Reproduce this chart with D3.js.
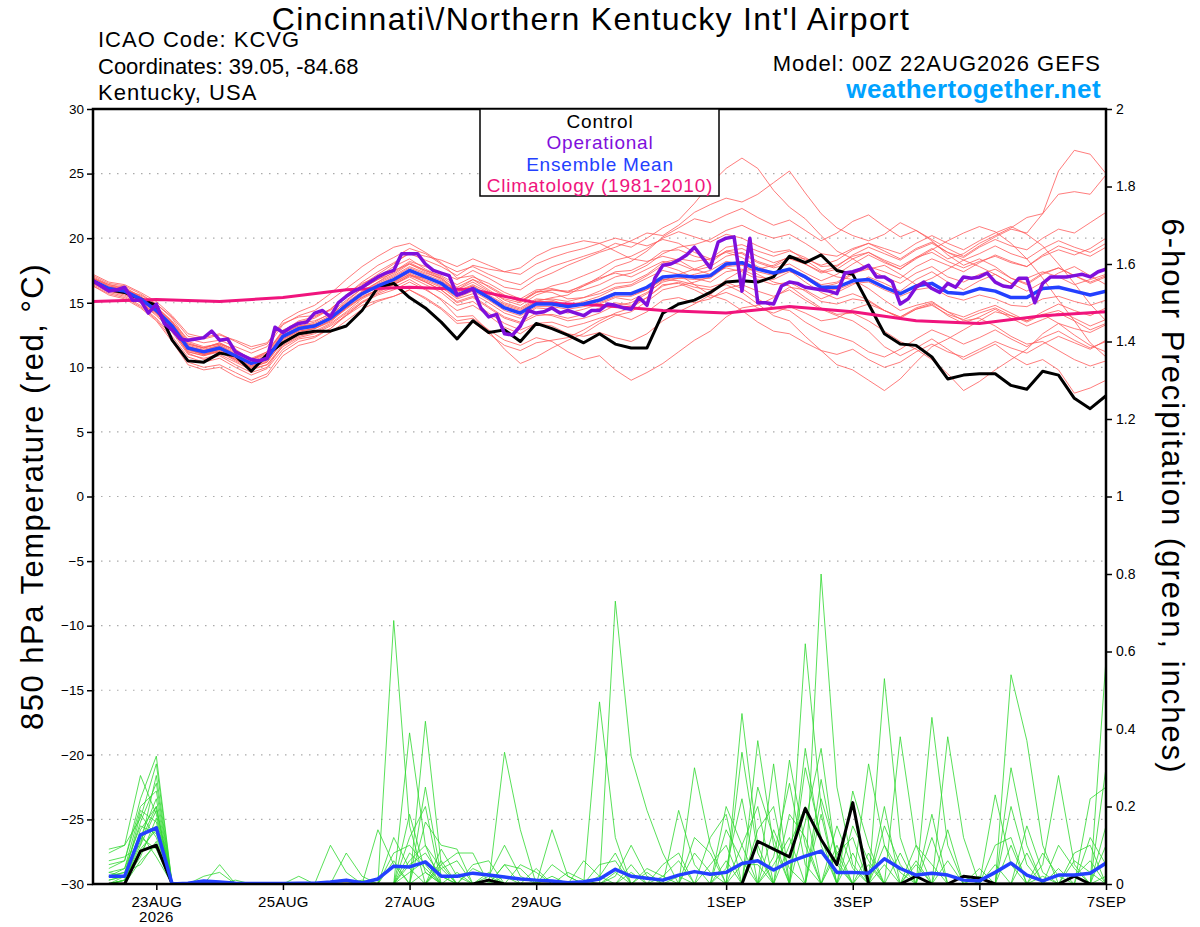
<!DOCTYPE html>
<html>
<head>
<meta charset="utf-8">
<script src="https://cdn.jsdelivr.net/npm/d3@7"></script>
<style>
  body { margin: 0; background: #fff; }
  text { font-family: "Liberation Sans", Arial, Helvetica, sans-serif; }
</style>
</head>
<body>
<svg id="chart" width="1200" height="927"></svg>
<script>
// ---- data (read off the GEFS plume, 00Z 22AUG2026 run) ----
// temperatures are 6-hourly from f000, precip 6-hourly from f006, operational 3-hourly

var tickDays = ["2026-08-23", "2026-08-25", "2026-08-27", "2026-08-29", "2026-09-01", "2026-09-03", "2026-09-05", "2026-09-07"];
var tempTicks = [-30, -25, -20, -15, -10, -5, 0, 5, 10, 15, 20, 25, 30];
var pcpTicks = [0, 0.2, 0.4, 0.6, 0.8, 1, 1.2, 1.4, 1.6, 1.8, 2];
var legendItems = ["Control", "Operational", "Ensemble Mean", "Climatology (1981-2010)"];

var tempControl = [16.7, 16.0, 15.8, 15.3, 14.8, 12.1, 10.5, 10.4, 11.1, 10.9, 9.7, 11.0, 11.9, 12.6, 12.8, 12.8,
  13.2, 14.4, 16.2, 16.5, 15.4, 14.6, 13.5, 12.2, 13.6, 12.7, 12.9, 12.0, 13.4, 13.0, 12.5, 11.9,
  12.6, 11.8, 11.5, 11.5, 14.2, 14.9, 15.2, 15.8, 16.6, 16.7, 16.6, 17.0, 18.6, 18.1, 18.7, 17.5,
  17.2, 14.9, 12.6, 11.8, 11.7, 10.8, 9.1, 9.4, 9.5, 9.5, 8.6, 8.3, 9.7, 9.4, 7.6, 6.8, 7.8];

var tempMean = [16.7, 16.1, 15.9, 15.3, 14.4, 13.2, 11.5, 11.2, 11.5, 10.9, 10.3, 10.7, 12.4, 13.0, 13.2, 13.8,
  14.8, 15.7, 16.3, 16.8, 17.5, 17.0, 16.5, 15.6, 16.1, 15.4, 14.6, 14.2, 14.9, 14.9, 14.7, 14.9,
  15.2, 15.7, 15.7, 16.2, 17.0, 17.1, 17.0, 17.1, 18.0, 18.1, 17.6, 17.3, 17.6, 17.0, 16.2, 16.2,
  16.7, 16.8, 16.2, 15.7, 16.3, 16.5, 15.8, 15.7, 16.1, 15.9, 15.4, 15.4, 16.1, 16.2, 15.9, 15.6, 15.9];

// operational GFS, every 3 hours
var tempOper = [16.7, 16.3, 15.9, 16.0, 16.2, 15.2, 15.2, 14.2, 14.9, 13.4, 12.9, 12.2, 12.1, 12.2, 12.3, 12.8,
  12.1, 12.2, 11.2, 10.9, 10.6, 10.5, 10.7, 13.1, 12.7, 13.1, 13.4, 13.5, 14.2, 14.4, 13.9, 15.0,
  15.5, 15.9, 16.2, 16.6, 17.0, 17.3, 17.5, 18.8, 18.8, 18.8, 18.0, 17.5, 17.3, 17.1, 15.6, 15.8,
  16.1, 14.6, 13.9, 14.1, 12.6, 12.5, 13.2, 14.4, 14.2, 14.3, 14.6, 14.2, 14.4, 14.2, 14.0, 14.4,
  14.4, 14.9, 14.8, 14.6, 14.5, 15.4, 14.8, 16.9, 17.9, 18.0, 18.3, 18.7, 19.3, 18.5, 17.7, 19.7,
  20.0, 20.1, 15.9, 20.0, 15.0, 15.0, 14.9, 16.3, 16.6, 16.5, 16.2, 16.1, 16.0, 15.9, 15.7, 17.3,
  17.4, 17.6, 17.9, 17.0, 17.0, 16.6, 14.9, 15.3, 16.2, 16.6, 16.1, 15.8, 16.5, 16.2, 17.0, 16.9,
  17.0, 17.3, 16.6, 16.3, 16.2, 16.9, 16.9, 15.0, 16.5, 17.0, 17.0, 17.0, 17.1, 17.2, 17.0, 17.4, 17.6];

// 1981-2010 climatology, once a day at 00Z
var tempClim = [15.1, 15.25, 15.1, 15.4, 16.0, 16.2, 16.0, 15.0, 14.8, 14.4, 14.2, 14.7, 14.3, 13.6, 13.4, 14.0, 14.3];

var tempMembers = [
  [16.9, 16.3, 16.0, 15.6, 14.9, 13.8, 12.0, 11.6, 11.8, 11.4, 10.6, 11.2, 12.8, 13.6, 13.9, 14.5, 15.6, 16.5, 17.0, 17.8, 18.4, 17.6, 17.0, 16.2, 16.8, 16.0, 15.2, 14.8, 15.6, 16.0, 15.8, 16.4, 16.9, 17.3, 17.0, 17.6, 18.2, 18.0, 17.5, 17.8, 18.6, 18.9, 18.2, 17.8, 18.4, 18.0, 17.3, 17.6, 18.4, 18.9, 18.2, 17.6, 18.5, 19.2, 18.4, 18.8, 19.6, 20.2, 20.8, 21.6, 21.9, 25.2, 26.8, 26.5, 25.0],
  [17.0, 16.4, 16.2, 15.5, 14.6, 13.5, 12.2, 11.9, 12.1, 11.6, 11.1, 11.6, 13.3, 14.0, 14.4, 15.2, 16.1, 17.0, 17.9, 18.5, 19.2, 18.8, 18.0, 17.4, 17.8, 17.2, 16.7, 16.4, 17.2, 17.8, 18.2, 18.6, 19.0, 19.6, 19.3, 20.0, 20.8, 21.4, 22.7, 24.2, 25.4, 26.2, 25.4, 23.7, 22.4, 21.5, 20.2, 19.0, 18.4, 17.6, 17.9, 17.2, 16.4, 16.9, 17.6, 18.3, 17.8, 17.2, 16.5, 16.9, 17.4, 17.0, 16.4, 16.8, 17.2],
  [16.5, 16.0, 15.7, 15.0, 14.0, 12.8, 11.2, 10.9, 11.3, 10.6, 10.0, 10.4, 12.0, 12.7, 13.0, 13.5, 14.6, 15.8, 16.6, 17.4, 18.2, 17.8, 17.3, 16.8, 17.5, 16.9, 16.2, 16.0, 16.8, 17.3, 17.9, 18.4, 18.9, 19.3, 19.8, 20.4, 20.2, 21.0, 22.0, 22.6, 23.1, 22.8, 23.4, 24.3, 25.2, 23.5, 21.9, 20.8, 20.2, 19.8, 20.3, 21.2, 20.6, 19.9, 19.2, 18.6, 19.4, 20.1, 20.7, 20.4, 21.9, 23.4, 23.6, 23.4, 24.9],
  [16.4, 15.8, 15.5, 14.8, 13.8, 12.4, 10.8, 10.4, 10.7, 10.0, 9.4, 9.9, 11.4, 12.2, 12.4, 13.0, 14.0, 15.0, 15.6, 16.0, 16.6, 16.0, 15.3, 14.4, 14.8, 14.0, 13.1, 12.6, 13.4, 13.5, 13.1, 13.4, 13.8, 14.1, 13.7, 14.3, 15.2, 15.4, 15.0, 15.3, 16.1, 16.4, 15.9, 15.5, 16.0, 15.2, 14.5, 14.0, 13.6, 12.8, 11.6, 10.9, 11.5, 12.2, 11.4, 10.6, 11.2, 11.8, 10.9, 10.2, 10.6, 9.8, 8.0, 8.4, 9.0],
  [16.6, 16.0, 15.8, 15.1, 14.3, 13.0, 11.4, 11.0, 11.2, 10.5, 9.9, 10.2, 11.6, 12.3, 12.6, 13.2, 14.0, 14.8, 15.2, 15.5, 16.0, 15.4, 14.6, 13.6, 13.8, 12.9, 12.1, 11.7, 12.3, 12.0, 11.2, 10.6, 10.9, 9.8, 9.0, 9.6, 10.3, 11.2, 12.1, 12.8, 13.9, 14.6, 14.8, 15.4, 16.2, 16.0, 15.3, 15.8, 16.4, 17.0, 16.5, 15.9, 16.8, 17.4, 16.6, 16.0, 16.7, 17.2, 16.5, 15.9, 16.6, 17.3, 17.8, 17.1, 16.4],
  [16.8, 16.2, 16.0, 15.2, 14.2, 12.9, 11.1, 10.6, 10.9, 10.2, 9.6, 10.0, 11.7, 12.4, 12.7, 13.3, 14.2, 15.1, 15.7, 16.2, 16.8, 16.1, 15.2, 13.9, 14.0, 12.8, 11.4, 10.3, 10.8, 11.5, 12.1, 12.6, 13.4, 14.0, 14.3, 15.1, 16.0, 16.3, 16.6, 17.0, 17.8, 18.2, 17.6, 17.2, 17.5, 16.6, 15.8, 15.3, 15.7, 15.2, 14.4, 13.8, 14.5, 14.9, 14.0, 13.4, 13.9, 14.5, 13.8, 13.2, 13.7, 14.2, 13.6, 12.9, 13.4],
  [16.9, 16.3, 16.1, 15.4, 14.7, 13.6, 11.9, 11.5, 11.9, 11.3, 10.7, 11.2, 12.9, 13.4, 13.6, 14.1, 15.0, 15.9, 16.6, 17.2, 18.0, 17.5, 17.1, 16.4, 17.0, 16.5, 15.8, 15.3, 16.0, 16.1, 15.8, 16.0, 16.4, 17.0, 17.3, 17.9, 18.8, 19.3, 19.5, 19.9, 20.6, 21.0, 20.4, 20.0, 20.3, 19.6, 18.8, 18.6, 19.2, 19.6, 19.0, 18.4, 19.2, 19.7, 18.9, 18.3, 18.8, 19.4, 18.8, 18.4, 19.2, 19.8, 19.3, 18.9, 19.6],
  [16.6, 16.0, 15.9, 15.3, 14.5, 13.3, 11.6, 11.3, 11.7, 11.1, 10.5, 10.9, 12.6, 13.2, 13.3, 13.9, 14.9, 15.8, 16.5, 17.1, 17.8, 17.3, 16.9, 16.0, 16.6, 15.9, 15.0, 14.6, 15.3, 15.2, 14.8, 15.0, 15.3, 15.8, 15.6, 16.0, 16.8, 16.7, 16.4, 16.2, 16.6, 16.1, 15.3, 14.6, 14.4, 13.5, 12.8, 12.4, 12.0, 11.2, 10.8, 11.4, 12.2, 12.9, 12.4, 11.8, 12.3, 12.9, 12.2, 11.6, 12.3, 12.8, 12.1, 11.5, 12.0],
  [16.7, 16.2, 16.0, 15.4, 14.5, 13.4, 11.7, 11.4, 11.7, 11.0, 10.4, 10.8, 12.5, 13.1, 13.4, 14.0, 15.1, 16.1, 16.8, 17.5, 18.0, 17.4, 16.8, 15.9, 16.4, 15.8, 15.3, 15.0, 15.8, 16.3, 16.6, 17.1, 17.6, 18.3, 18.6, 19.2, 20.0, 20.5, 20.1, 19.7, 20.3, 20.0, 19.4, 18.9, 19.1, 18.3, 17.5, 17.0, 16.8, 16.1, 15.2, 14.4, 14.8, 15.1, 14.3, 13.6, 13.8, 13.2, 12.4, 11.8, 12.0, 11.3, 10.6, 10.1, 10.5],
  [16.5, 15.9, 15.6, 15.0, 14.1, 12.7, 11.0, 10.7, 11.0, 10.4, 9.8, 10.2, 11.8, 12.5, 12.8, 13.4, 14.3, 15.3, 15.9, 16.4, 17.1, 16.6, 16.0, 15.0, 15.4, 14.6, 13.8, 13.4, 14.0, 14.1, 13.8, 14.1, 14.6, 15.0, 14.8, 15.4, 16.3, 16.6, 16.2, 16.0, 16.4, 15.8, 14.9, 14.0, 13.6, 12.4, 11.3, 10.2, 9.8, 9.0, 8.2, 9.1, 10.4, 11.6, 12.2, 12.9, 13.6, 14.3, 14.0, 13.6, 14.3, 14.9, 14.4, 14.0, 14.6],
  [16.8, 16.1, 15.8, 15.2, 14.4, 13.1, 11.4, 11.0, 11.4, 10.7, 10.1, 10.5, 12.2, 12.8, 13.0, 13.6, 14.6, 15.5, 16.0, 16.5, 17.2, 16.7, 16.2, 15.3, 15.7, 15.0, 14.2, 13.8, 14.6, 14.5, 14.2, 14.5, 14.9, 15.4, 15.2, 15.8, 16.6, 16.9, 17.2, 17.5, 18.2, 18.0, 17.2, 16.6, 16.3, 15.4, 14.6, 14.1, 14.2, 13.6, 12.8, 12.0, 11.4, 10.6, 9.5, 8.2, 8.9, 9.8, 10.6, 11.4, 12.6, 13.4, 13.0, 12.7, 13.3],
  [16.6, 16.1, 15.9, 15.3, 14.4, 13.3, 11.6, 11.3, 11.6, 11.0, 10.4, 10.8, 12.4, 13.0, 13.2, 13.9, 14.9, 15.8, 16.4, 17.0, 17.7, 17.2, 16.7, 15.8, 16.3, 15.6, 14.9, 14.5, 15.2, 15.3, 15.1, 15.4, 15.9, 16.5, 16.6, 17.2, 18.1, 18.4, 18.2, 18.4, 19.3, 19.5, 19.0, 18.6, 19.0, 18.5, 17.8, 17.9, 18.6, 18.9, 18.3, 17.8, 18.5, 18.9, 18.2, 17.7, 18.2, 18.6, 18.1, 17.8, 18.6, 19.1, 18.7, 19.2, 20.0],
  [16.3, 15.7, 15.4, 14.7, 13.7, 12.2, 10.4, 10.0, 10.2, 9.6, 9.0, 9.5, 11.2, 12.0, 12.3, 13.0, 14.1, 15.0, 15.8, 16.4, 17.1, 16.9, 16.6, 16.0, 16.8, 16.3, 15.6, 15.1, 15.9, 15.8, 15.3, 15.4, 15.7, 16.2, 16.4, 17.1, 17.9, 17.5, 16.9, 16.6, 17.4, 17.6, 17.0, 16.8, 17.4, 17.1, 16.4, 16.6, 17.3, 17.6, 17.0, 16.5, 17.3, 17.8, 17.0, 16.6, 17.2, 17.6, 16.9, 16.5, 17.3, 17.7, 17.1, 16.6, 17.1],
  [17.1, 16.5, 16.3, 15.7, 14.9, 13.9, 12.4, 12.2, 12.5, 12.1, 11.6, 11.9, 13.4, 13.9, 14.0, 14.4, 15.4, 16.4, 17.2, 18.0, 18.9, 18.6, 18.3, 17.8, 18.4, 17.9, 17.4, 17.2, 18.0, 18.5, 18.9, 19.2, 19.6, 20.0, 19.7, 19.4, 19.9, 19.6, 18.9, 18.4, 18.9, 18.5, 17.8, 17.3, 17.6, 16.9, 16.2, 16.5, 17.2, 17.8, 17.4, 16.9, 17.8, 18.4, 17.9, 17.4, 18.1, 18.7, 18.2, 17.8, 18.7, 19.4, 19.0, 18.6, 19.3],
  [16.7, 16.1, 15.9, 15.2, 14.3, 13.0, 11.3, 11.0, 11.3, 10.7, 10.1, 10.6, 12.2, 12.9, 13.1, 13.7, 14.6, 15.4, 16.0, 16.4, 17.0, 16.4, 15.8, 14.8, 15.1, 14.2, 13.4, 12.9, 13.4, 13.2, 12.6, 12.4, 12.7, 12.3, 12.0, 12.6, 13.6, 14.3, 14.9, 15.6, 16.8, 17.5, 17.6, 17.9, 18.6, 18.4, 17.9, 18.3, 19.1, 19.6, 19.2, 18.8, 19.6, 20.2, 19.6, 19.1, 19.8, 20.4, 20.9, 20.3, 19.4, 18.0, 16.5, 14.9, 13.6],
  [16.6, 16.0, 15.8, 15.2, 14.4, 13.1, 11.5, 11.1, 11.4, 10.8, 10.2, 10.6, 12.3, 12.9, 13.2, 13.7, 14.7, 15.6, 16.2, 16.7, 17.3, 16.8, 16.3, 15.4, 15.9, 15.2, 14.4, 14.0, 14.7, 14.7, 14.5, 14.7, 15.0, 15.5, 15.5, 16.0, 16.8, 16.9, 16.8, 16.9, 17.8, 17.9, 17.4, 17.1, 17.5, 16.9, 16.1, 16.0, 16.5, 16.6, 16.0, 15.5, 16.0, 16.2, 15.5, 15.2, 15.6, 15.3, 14.8, 14.7, 15.3, 15.5, 15.1, 14.8, 15.2],
  [16.9, 16.4, 16.1, 15.5, 14.7, 13.5, 11.8, 11.5, 11.9, 11.3, 10.6, 11.1, 12.8, 13.5, 13.8, 14.5, 15.6, 16.6, 17.4, 18.1, 18.8, 18.3, 17.8, 17.1, 17.9, 17.6, 17.4, 17.7, 18.6, 19.2, 19.5, 19.8, 19.6, 19.0, 18.4, 18.2, 18.6, 18.3, 17.6, 17.2, 17.7, 17.4, 16.8, 16.4, 16.6, 15.9, 15.1, 14.9, 15.3, 15.1, 14.4, 13.9, 14.5, 14.8, 14.1, 13.7, 14.2, 14.6, 14.0, 13.5, 14.1, 14.4, 13.8, 13.2, 13.7],
  [16.5, 15.9, 15.7, 15.0, 14.2, 12.9, 11.2, 10.9, 11.2, 10.6, 10.0, 10.4, 12.1, 12.8, 13.0, 13.6, 14.5, 15.4, 16.0, 16.6, 17.4, 17.0, 16.5, 15.6, 16.1, 15.5, 14.8, 14.4, 15.1, 15.1, 14.8, 15.1, 15.5, 16.1, 16.3, 16.9, 17.5, 17.2, 16.4, 15.6, 15.2, 14.4, 13.5, 12.8, 12.6, 11.9, 11.3, 11.0, 11.4, 10.6, 10.0, 10.4, 11.2, 11.8, 11.2, 10.8, 11.4, 12.0, 11.5, 11.1, 11.8, 12.4, 11.9, 11.4, 12.1],
  [16.8, 16.2, 16.0, 15.4, 14.6, 13.4, 11.8, 11.5, 11.8, 11.2, 10.6, 11.0, 12.7, 13.2, 13.5, 14.2, 15.2, 16.1, 16.8, 17.3, 18.1, 17.5, 16.9, 15.9, 16.3, 15.5, 14.7, 14.3, 15.1, 15.4, 15.6, 16.3, 17.0, 17.8, 18.2, 19.0, 20.1, 20.8, 21.5, 21.2, 21.8, 22.3, 21.6, 21.0, 21.4, 20.6, 19.8, 20.4, 21.3, 21.8, 20.9, 20.1, 20.6, 19.8, 18.7, 17.9, 18.4, 17.8, 16.9, 16.4, 17.2, 17.7, 17.1, 16.5, 17.0],
  [16.7, 16.1, 15.8, 15.2, 14.4, 13.1, 11.4, 11.0, 11.4, 10.9, 10.3, 10.6, 12.3, 13.0, 13.3, 13.8, 14.8, 15.7, 16.2, 16.6, 17.2, 16.6, 16.0, 15.1, 15.5, 14.7, 13.9, 13.5, 14.2, 14.0, 13.6, 13.8, 14.2, 14.8, 15.0, 15.7, 16.7, 17.2, 17.6, 18.1, 19.0, 18.8, 18.1, 17.7, 18.0, 17.3, 16.7, 17.2, 18.0, 18.7, 18.1, 17.6, 18.4, 19.1, 19.8, 20.4, 20.9, 20.5, 19.6, 18.4, 16.9, 15.2, 13.6, 11.9, 10.8],
  [17.2, 16.6, 16.4, 15.8, 15.1, 14.0, 12.6, 12.3, 12.6, 12.0, 11.4, 11.8, 13.6, 14.3, 14.8, 15.7, 16.8, 17.8, 18.6, 19.3, 19.6, 18.9, 18.1, 16.9, 17.1, 16.2, 15.5, 15.1, 15.8, 16.0, 15.9, 16.3, 16.8, 17.4, 17.5, 18.1, 19.0, 19.1, 18.6, 18.3, 19.0, 19.2, 18.6, 18.1, 18.5, 18.0, 17.4, 17.8, 18.7, 19.3, 18.8, 18.3, 19.1, 19.6, 18.9, 18.5, 19.3, 19.9, 19.4, 19.1, 20.0, 20.7, 20.4, 21.2, 22.0],
  [16.3, 15.6, 15.3, 14.6, 13.6, 12.0, 10.2, 9.8, 10.0, 9.3, 8.8, 9.3, 10.9, 11.7, 12.0, 12.7, 13.6, 14.5, 15.1, 15.5, 16.0, 15.3, 14.5, 13.4, 13.5, 12.6, 11.7, 11.3, 11.9, 12.1, 12.3, 12.9, 13.6, 14.2, 14.6, 15.4, 16.4, 16.5, 16.0, 15.4, 15.8, 15.3, 14.6, 14.2, 14.7, 14.2, 13.6, 13.8, 14.5, 14.9, 14.4, 13.9, 14.6, 15.0, 14.3, 13.9, 14.4, 14.8, 14.2, 13.6, 14.1, 13.4, 12.5, 11.7, 11.2]
];

// 6-hour precipitation (inches), f006..f384
var pcpControl = [0, 0, .085, .1, 0, 0, 0, 0, 0, 0, 0, 0, 0, 0, 0, 0,
  0, 0, 0, 0, 0, 0, 0, 0, .01, 0, 0, 0, 0, 0, 0, 0,
  0, 0, 0, 0, 0, 0, 0, 0, 0, .11, .09, .07, .195, .115, .05, .21,
  0, 0, 0, .02, 0, 0, .02, .015, 0, 0, 0, 0, 0, .02, 0, 0];

var pcpMean = [.02, .02, .127, .145, 0, .002, .008, .005, .002, .001, .001, .001, .002, .002, .005, .01,
  .003, .013, .046, .044, .057, .02, .02, .028, .023, .018, .013, .01, .008, .003, .006, .013,
  .038, .02, .015, .01, .023, .032, .025, .03, .053, .06, .036, .057, .072, .085, .03, .03,
  .028, .065, .04, .023, .028, .023, .01, .008, .03, .054, .023, .008, .023, .023, .028, .054];

var pcpMembers = [
  [.04, .06, .22, .33, 0, 0, 0, 0, 0, 0, 0, 0, 0, 0, 0, 0, 0, 0, .68, .15, 0, 0, 0, 0, 0, .05, 0, 0, 0, 0, 0, 0, .03, 0, 0, 0, 0, 0, 0, .06, 0, 0, 0, 0, .62, .2, 0, 0, 0, .05, 0, 0, 0, 0, 0, 0, 0, .1, 0, 0, 0, 0, 0, .02],
  [.09, .1, .28, .18, 0, 0, 0, 0, 0, 0, 0, 0, 0, 0, 0, 0, 0, 0, 0, 0, .42, .05, 0, 0, 0, 0, 0, 0, 0, 0, 0, 0, .73, .33, .19, .08, 0, 0, 0, 0, 0, 0, 0, 0, 0, 0, .1, 0, 0, 0, 0, 0, .43, .1, 0, 0, 0, 0, 0, 0, 0, 0, 0, 0],
  [.02, .03, .16, .26, 0, 0, 0, 0, 0, 0, 0, 0, 0, 0, 0, 0, 0, 0, 0, .39, .1, 0, 0, 0, 0, .34, .14, 0, 0, 0, 0, 0, 0, 0, 0, 0, 0, 0, 0, 0, .44, .1, 0, 0, 0, .8, .25, .05, 0, 0, 0, 0, 0, 0, 0, 0, 0, 0, 0, .05, .28, .05, 0, 0],
  [0, .02, .12, .22, 0, 0, 0, .05, 0, 0, 0, 0, 0, 0, .1, .03, 0, 0, 0, .12, .2, 0, 0, 0, 0, 0, 0, 0, .14, .02, 0, 0, 0, 0, 0, 0, 0, .3, .1, 0, 0, 0, .31, 0, 0, 0, 0, 0, 0, .53, .12, 0, 0, 0, 0, 0, 0, .54, .37, .1, 0, 0, 0, 0],
  [.01, .02, .18, .12, 0, 0, 0, 0, 0, 0, 0, 0, 0, 0, 0, .08, .02, 0, 0, 0, 0, .05, .08, .08, 0, 0, 0, 0, 0, 0, 0, .47, .12, 0, 0, 0, 0, 0, 0, 0, 0, .37, .1, 0, 0, 0, 0, 0, .31, .1, 0, 0, 0, 0, 0, 0, 0, 0, 0, 0, 0, 0, 0, .58],
  [0, .01, .1, .19, 0, 0, .02, .03, 0, 0, 0, 0, 0, 0, 0, 0, 0, .14, .05, 0, 0, 0, 0, 0, .03, 0, 0, 0, 0, 0, 0, 0, 0, 0, 0, 0, .19, .05, 0, 0, .34, .08, 0, 0, 0, 0, 0, 0, 0, 0, .38, .1, 0, 0, 0, 0, .23, .05, 0, 0, 0, 0, 0, 0],
  [.03, .02, .08, .15, 0, 0, 0, 0, 0, 0, 0, 0, .02, 0, 0, 0, 0, 0, 0, .05, .08, .02, 0, 0, 0, 0, .05, .03, 0, 0, 0, 0, 0, 0, 0, 0, 0, 0, 0, .2, .1, 0, 0, .18, .12, 0, 0, .24, .1, 0, 0, 0, 0, .38, .12, 0, 0, 0, 0, 0, 0, 0, .22, .25],
  [0, .01, .14, .2, 0, 0, 0, 0, 0, 0, 0, 0, 0, 0, 0, 0, 0, 0, .08, .1, .05, 0, 0, .05, .06, 0, 0, 0, 0, 0, .06, .02, 0, 0, 0, .05, .08, 0, 0, 0, 0, 0, 0, 0, 0, .27, .06, 0, 0, 0, 0, 0, .12, 0, 0, 0, 0, 0, .15, .03, 0, 0, 0, 0],
  [.05, .06, .2, .24, 0, 0, 0, 0, 0, 0, 0, 0, 0, 0, 0, 0, 0, 0, .06, 0, 0, .09, .02, 0, 0, 0, 0, 0, .05, .02, 0, 0, 0, .05, 0, 0, 0, 0, .12, .18, 0, 0, 0, .1, .2, 0, 0, 0, 0, 0, 0, .06, 0, 0, 0, .04, 0, 0, 0, 0, 0, .08, .1, 0],
  [0, 0, .06, .1, 0, 0, 0, 0, .01, 0, 0, 0, 0, 0, 0, 0, 0, 0, 0, .18, .03, 0, 0, 0, 0, .05, .04, 0, 0, 0, 0, 0, 0, 0, .03, 0, 0, 0, 0, 0, 0, .14, .2, 0, 0, 0, .08, .12, 0, 0, 0, 0, 0, 0, .02, 0, .1, .12, 0, 0, .04, 0, 0, 0],
  [.02, .04, .15, .13, 0, 0, 0, 0, 0, 0, 0, 0, 0, 0, 0, 0, 0, 0, 0, 0, .16, .1, .09, 0, 0, 0, 0, .04, 0, 0, 0, .05, .06, 0, 0, 0, 0, 0, 0, .04, .22, 0, 0, 0, .3, .12, 0, 0, 0, .15, .05, 0, 0, 0, 0, 0, 0, 0, 0, 0, 0, 0, 0, .15],
  [0, .01, .07, .17, 0, 0, 0, 0, 0, 0, 0, 0, 0, 0, 0, 0, 0, 0, 0, 0, .25, .02, 0, 0, .02, .1, .02, 0, 0, 0, 0, 0, 0, 0, 0, 0, 0, .12, .08, 0, 0, 0, .07, .26, .05, 0, 0, 0, .05, 0, 0, 0, 0, .06, 0, 0, 0, 0, 0, 0, 0, .02, .06, 0],
  [.01, .02, .12, .09, 0, 0, 0, 0, 0, 0, 0, 0, 0, 0, 0, 0, 0, 0, 0, .03, .06, 0, 0, .04, .02, 0, 0, 0, 0, 0, 0, 0, .02, .1, .02, 0, 0, 0, 0, 0, 0, 0, 0, 0, .16, .35, .05, 0, 0, 0, 0, .1, .05, 0, 0, 0, 0, 0, .08, 0, 0, 0, 0, .1],
  [.06, .07, .1, .28, 0, 0, 0, 0, 0, 0, 0, 0, 0, 0, 0, 0, 0, 0, 0, 0, 0, .04, .06, 0, 0, 0, 0, 0, 0, 0, 0, 0, 0, 0, 0, .02, .06, 0, 0, 0, .1, .2, 0, 0, 0, 0, 0, .15, .06, 0, 0, 0, 0, 0, 0, .02, 0, .3, .1, 0, 0, 0, 0, 0],
  [0, .01, .09, .14, 0, 0, 0, 0, 0, 0, 0, 0, 0, 0, 0, 0, .01, 0, .12, .04, 0, 0, 0, 0, 0, 0, 0, 0, 0, .03, .01, 0, 0, 0, 0, 0, 0, 0, .05, .1, 0, 0, .05, .12, 0, .18, 0, 0, 0, 0, .08, 0, 0, 0, 0, 0, 0, 0, 0, 0, .1, .04, 0, 0],
  [.02, .03, .05, .11, 0, 0, 0, 0, 0, 0, 0, 0, 0, 0, 0, 0, 0, 0, 0, 0, .03, 0, 0, 0, 0, .02, 0, 0, 0, 0, 0, 0, 0, 0, 0, 0, 0, 0, 0, .14, .06, 0, 0, 0, .35, .1, 0, 0, 0, .2, 0, 0, 0, 0, .02, 0, 0, 0, 0, .02, 0, 0, .12, .05],
  [0, 0, .13, .07, 0, 0, 0, 0, 0, 0, 0, 0, 0, 0, 0, 0, 0, 0, 0, 0, 0, 0, .03, 0, 0, 0, 0, 0, .02, 0, 0, 0, 0, 0, 0, 0, .02, 0, 0, 0, 0, .25, .12, 0, 0, 0, .15, .04, 0, 0, 0, 0, .18, 0, 0, 0, .05, 0, 0, 0, 0, 0, 0, .3],
  [.08, .1, .17, .31, 0, 0, 0, 0, 0, 0, 0, 0, 0, 0, 0, 0, 0, 0, 0, .08, .04, 0, 0, 0, 0, 0, 0, 0, 0, 0, 0, 0, 0, .03, 0, 0, 0, .08, .03, 0, 0, 0, 0, .32, .1, 0, 0, 0, .08, 0, 0, 0, 0, 0, 0, 0, 0, .2, .05, 0, 0, 0, 0, 0],
  [0, .01, .11, .2, 0, 0, 0, 0, 0, 0, 0, 0, 0, 0, 0, 0, 0, 0, 0, 0, 0, .06, 0, 0, 0, 0, 0, 0, 0, 0, 0, .02, .08, 0, 0, 0, 0, 0, 0, 0, .05, .05, 0, 0, 0, .22, .08, 0, 0, 0, 0, .05, 0, .14, 0, 0, 0, 0, 0, .08, .02, 0, 0, 0],
  [.03, .04, .19, .16, 0, 0, 0, 0, 0, 0, 0, 0, 0, 0, 0, 0, 0, 0, 0, .06, .1, .04, 0, 0, 0, 0, 0, 0, 0, 0, 0, 0, 0, 0, .04, .02, 0, 0, 0, 0, 0, 0, .14, .04, 0, 0, 0, .08, 0, .1, .03, 0, 0, 0, 0, 0, 0, 0, 0, 0, 0, .06, .03, 0]
];

// ---- layout ----
var margin = { top: 109, right: 94, bottom: 43, left: 93 },
    width = 1200 - margin.left - margin.right,
    height = 927 - margin.top - margin.bottom;

var runStart = new Date(Date.UTC(2026, 7, 22, 0));
var hoursToDate = function (h) { return new Date(runStart.getTime() + h * 3600 * 1000); };

var x = d3.scaleUtc().domain([runStart, hoursToDate(384)]).range([0, width]);
var yT = d3.scaleLinear().domain([-30, 30]).range([height, 0]);
var yP = d3.scaleLinear().domain([0, 2]).range([height, 0]);

var svg = d3.select("#chart");
var g = svg.append("g").attr("transform", "translate(" + margin.left + "," + margin.top + ")");

// dotted temperature grid
g.selectAll(".grid").data(tempTicks.filter(function (t) { return t > -30 && t < 30; }))
  .enter().append("line")
  .attr("x1", 0).attr("x2", width)
  .attr("y1", function (d) { return yT(d); }).attr("y2", function (d) { return yT(d); })
  .attr("stroke", "#aaa").attr("stroke-width", 1.2).attr("stroke-dasharray", "1.5,6.5");

g.append("clipPath").attr("id", "plotclip").append("rect")
  .attr("width", width).attr("height", height);
var plot = g.append("g").attr("clip-path", "url(#plotclip)");

// lines by step size
function lineFor(step, startHour, yScale) {
  return d3.line()
    .x(function (d, i) { return x(hoursToDate(startHour + i * step)); })
    .y(function (d) { return yScale(d); });
}
var tLine = lineFor(6, 0, yT);
var pLine = lineFor(6, 6, yP);

// ensemble members
plot.selectAll(".tmem").data(tempMembers).enter().append("path")
  .attr("d", tLine).attr("fill", "none")
  .attr("stroke", "#ff5a5a").attr("stroke-width", 0.8);

plot.selectAll(".pmem").data(pcpMembers).enter().append("path")
  .attr("d", pLine).attr("fill", "none")
  .attr("stroke", "#2fd82f").attr("stroke-width", 0.8);

// control, climatology, mean, operational
plot.append("path").datum(tempControl).attr("d", tLine)
  .attr("fill", "none").attr("stroke", "#000").attr("stroke-width", 3).attr("stroke-linejoin", "round");
plot.append("path").datum(pcpControl).attr("d", pLine)
  .attr("fill", "none").attr("stroke", "#000").attr("stroke-width", 3).attr("stroke-linejoin", "round");

plot.append("path").datum(tempClim).attr("d", lineFor(24, 0, yT))
  .attr("fill", "none").attr("stroke", "#f0147d").attr("stroke-width", 3);

plot.append("path").datum(tempMean).attr("d", tLine)
  .attr("fill", "none").attr("stroke", "#2340ff").attr("stroke-width", 3.5).attr("stroke-linejoin", "round");
plot.append("path").datum(pcpMean).attr("d", pLine)
  .attr("fill", "none").attr("stroke", "#2340ff").attr("stroke-width", 3.5).attr("stroke-linejoin", "round");

plot.append("path").datum(tempOper).attr("d", lineFor(3, 0, yT))
  .attr("fill", "none").attr("stroke", "#7f0fdc").attr("stroke-width", 3.5).attr("stroke-linejoin", "round");

// frame
g.append("rect").attr("width", width).attr("height", height)
  .attr("fill", "none").attr("stroke", "#000").attr("stroke-width", 2.5);

// axes
var leftAxis = g.append("g")
  .call(d3.axisLeft(yT).tickValues(tempTicks).tickSize(6).tickPadding(3));
var rightAxis = g.append("g").attr("transform", "translate(" + width + ",0)")
  .call(d3.axisRight(yP).tickValues(pcpTicks).tickSize(6).tickPadding(4).tickFormat(d3.format("~g")));

var fmtDay = d3.utcFormat("%-d%b");
var bottomAxis = g.append("g").attr("transform", "translate(0," + height + ")")
  .call(d3.axisBottom(x).tickValues(tickDays.map(function (d) { return new Date(d + "T00:00:00Z"); }))
    .tickSize(6).tickPadding(6).tickFormat(function (d) { return fmtDay(d).toUpperCase(); }));

[leftAxis, rightAxis, bottomAxis].forEach(function (a) {
  a.select(".domain").remove();
  a.selectAll(".tick line").attr("stroke", "#000").attr("stroke-width", 1.5);
  a.selectAll("text").attr("fill", "#000").style("font-family", "Liberation Sans, Arial, sans-serif");
});
leftAxis.selectAll("text").style("font-size", "13.5px");
rightAxis.selectAll("text").style("font-size", "14px");
bottomAxis.selectAll("text").style("font-size", "15px").style("letter-spacing", "0.3px");

// year under first day
bottomAxis.append("text")
  .attr("x", x(new Date(tickDays[0] + "T00:00:00Z"))).attr("y", 38)
  .attr("text-anchor", "middle").attr("fill", "#000")
  .style("font-size", "15px").style("letter-spacing", "0.3px").text("2026");

// axis titles
svg.append("text")
  .attr("transform", "translate(43," + (margin.top + height / 2) + ") rotate(-90)")
  .attr("text-anchor", "middle").style("font-size", "31px").style("letter-spacing", "1.5px")
  .text("850 hPa Temperature (red, \u00B0C)");
svg.append("text")
  .attr("transform", "translate(1162," + (margin.top + height / 2) + ") rotate(90)")
  .attr("text-anchor", "middle").style("font-size", "31px").style("letter-spacing", "2px")
  .text("6-hour Precipitation (green, inches)");

// header
svg.append("text").attr("x", 591).attr("y", 30).attr("text-anchor", "middle")
  .style("font-size", "32px").style("letter-spacing", "1.3px")
  .text("Cincinnati\\/Northern Kentucky Int'l Airport");

var info = ["ICAO Code: KCVG", "Coordinates: 39.05, -84.68", "Kentucky, USA"];
var infoSpacing = [1, 0, 1];
svg.selectAll(".info").data(info).enter().append("text")
  .attr("x", 98).attr("y", function (d, i) { return 47 + i * 26.5; })
  .style("font-size", "22px")
  .style("letter-spacing", function (d, i) { return infoSpacing[i] + "px"; })
  .text(function (d) { return d; });

svg.append("text").attr("x", 1101).attr("y", 71).attr("text-anchor", "end")
  .style("font-size", "22px").style("letter-spacing", "1px").text("Model: 00Z 22AUG2026 GEFS");
svg.append("text").attr("x", 1101).attr("y", 98).attr("text-anchor", "end")
  .style("font-size", "26px").style("font-weight", "bold").style("letter-spacing", "0.4px")
  .attr("fill", "#00a2ff").text("weathertogether.net");

// legend
var legendColors = ["#000", "#7f0fdc", "#2340ff", "#f0147d"];
var lg = svg.append("g");
lg.append("rect").attr("x", 480).attr("y", 109).attr("width", 239).attr("height", 87)
  .attr("fill", "#fff").attr("stroke", "#000").attr("stroke-width", 1.5);
lg.selectAll("text").data(legendItems).enter().append("text")
  .attr("x", 600).attr("y", function (d, i) { return 127.5 + i * 21.5; })
  .attr("text-anchor", "middle").style("font-size", "19px").style("letter-spacing", "0.8px")
  .attr("fill", function (d, i) { return legendColors[i]; })
  .text(function (d) { return d; });
</script>
</body>
</html>
